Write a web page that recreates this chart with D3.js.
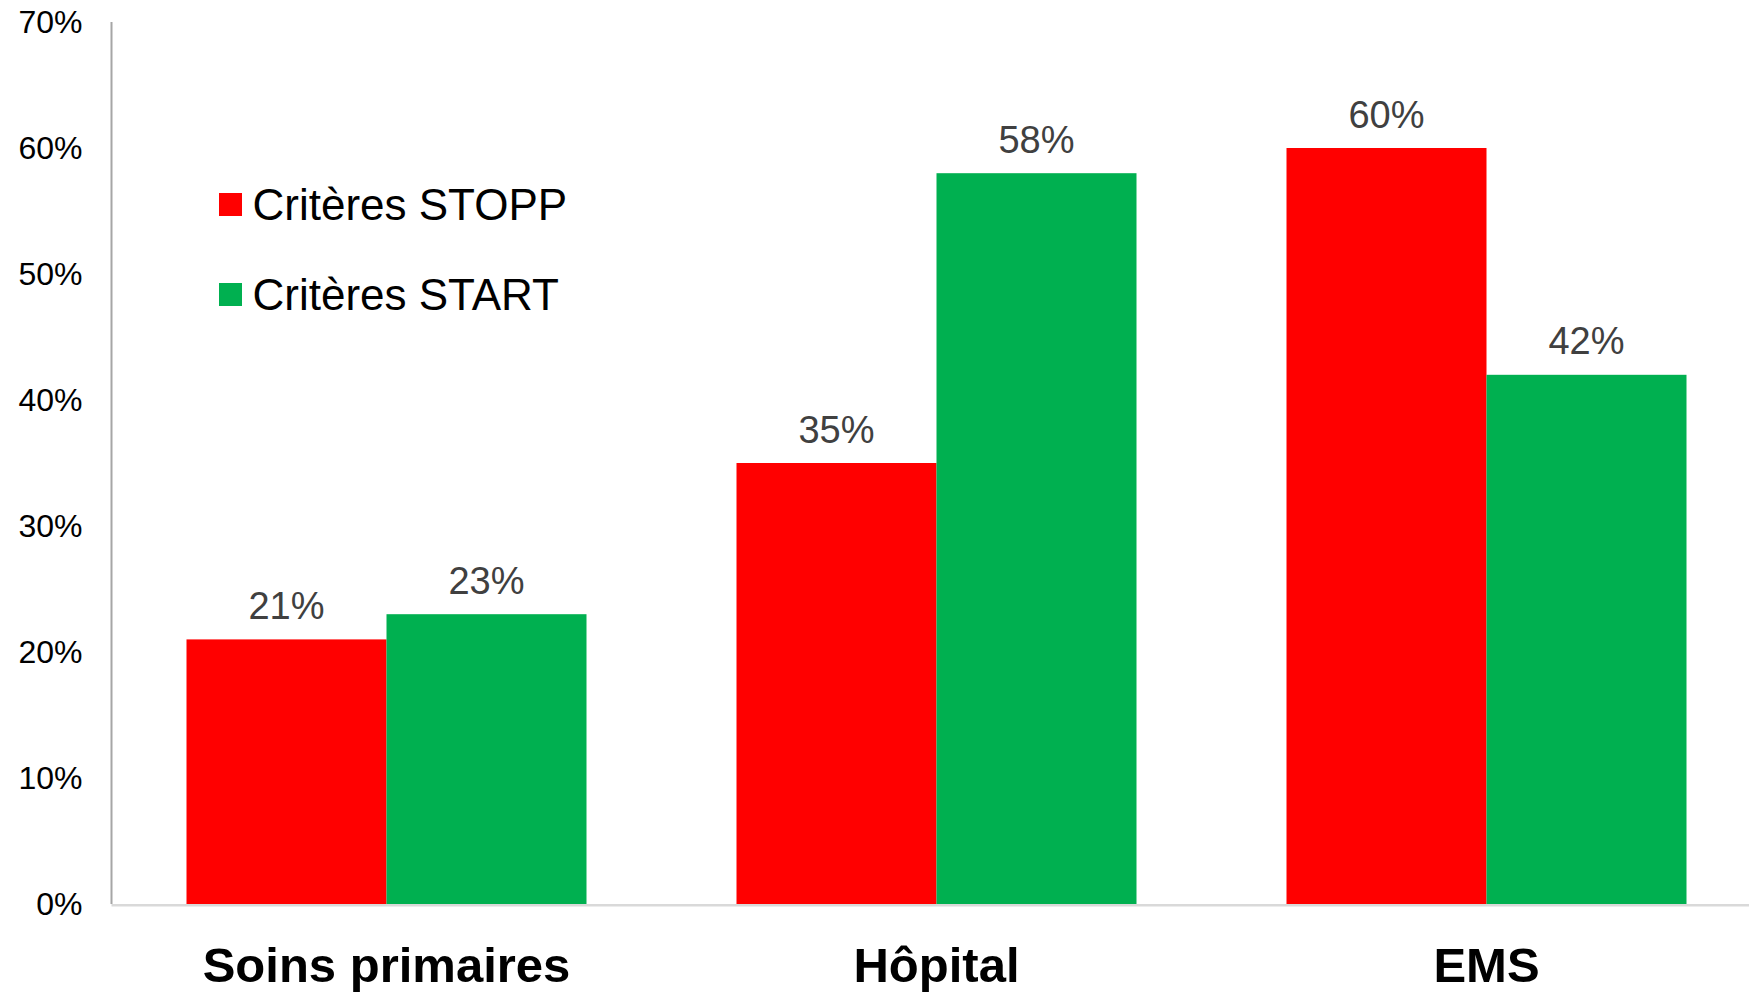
<!DOCTYPE html>
<html>
<head>
<meta charset="utf-8">
<script src="https://cdn.jsdelivr.net/npm/d3@7"></script>
<style>
  html, body { margin: 0; padding: 0; background: #fff; }
  svg { display: block; font-family: "Liberation Sans", Arial, sans-serif; }
</style>
</head>
<body>
<svg id="chart" width="1749" height="992"></svg>
<script>
// Share of patients meeting STOPP / START criteria by care setting
const categories = ["Soins primaires", "Hôpital", "EMS"];
const seriesNames = ["Critères STOPP", "Critères START"];
const stoppValues = [21, 35, 60];
const startValues = [23, 58, 42];
const yTicks = [0, 10, 20, 30, 40, 50, 60, 70];
const seriesColors = ["#ff0000", "#00b050"];

(function () {
  const svg = d3.select("#chart");
  const W = 1749;
  const plotLeft = 111.5, plotBottom = 904, plotTop = 22;

  const x = d3.scaleBand()
    .domain(categories)
    .range([plotLeft, plotLeft + 1650])
    .paddingInner(150 / 550)
    .paddingOuter(75 / 550);

  const xs = d3.scaleBand()
    .domain(seriesNames)
    .range([0, x.bandwidth()]);

  const y = d3.scaleLinear().domain([0, 70]).range([plotBottom, plotTop]);

  // Y axis: labels only, with a plain vertical line
  const yAxis = d3.axisLeft(y)
    .tickValues(yTicks)
    .tickSize(0)
    .tickPadding(29)
    .tickFormat(d => d + "%");
  const yG = svg.append("g").attr("transform", `translate(${plotLeft},0)`).call(yAxis);
  yG.select(".domain").remove();
  yG.selectAll("text")
    .attr("font-size", 32)
    .attr("fill", "#000")
    .attr("font-family", "Liberation Sans, Arial, sans-serif");
  svg.append("line")
    .attr("x1", plotLeft).attr("x2", plotLeft)
    .attr("y1", y(70)).attr("y2", plotBottom)
    .attr("stroke", "#a6a6a6").attr("stroke-width", 2);

  // Bars
  const rows = categories.map((c, i) => ({
    cat: c,
    vals: [
      { name: seriesNames[0], v: stoppValues[i], color: seriesColors[0] },
      { name: seriesNames[1], v: startValues[i], color: seriesColors[1] }
    ]
  }));

  const groups = svg.selectAll("g.cat")
    .data(rows).enter().append("g")
    .attr("class", "cat")
    .attr("transform", d => `translate(${x(d.cat)},0)`);

  groups.selectAll("rect")
    .data(d => d.vals).enter().append("rect")
    .attr("x", d => xs(d.name))
    .attr("width", xs.bandwidth())
    .attr("y", d => y(d.v))
    .attr("height", d => y(0) - y(d.v))
    .attr("fill", d => d.color);

  groups.selectAll("text.val")
    .data(d => d.vals).enter().append("text")
    .attr("class", "val")
    .attr("x", d => xs(d.name) + xs.bandwidth() / 2)
    .attr("y", d => y(d.v) - 20.5)
    .attr("text-anchor", "middle")
    .attr("font-size", 38)
    .attr("fill", "#404040")
    .text(d => d.v + "%");

  // X axis baseline
  svg.append("line")
    .attr("x1", plotLeft).attr("x2", W)
    .attr("y1", plotBottom + 1.2).attr("y2", plotBottom + 1.2)
    .attr("stroke", "#d9d9d9").attr("stroke-width", 2.5);

  // Category labels
  svg.selectAll("text.catlabel")
    .data(categories).enter().append("text")
    .attr("class", "catlabel")
    .attr("x", d => x(d) + x.bandwidth() / 2)
    .attr("y", 981.5)
    .attr("text-anchor", "middle")
    .attr("font-size", 49)
    .attr("font-weight", "bold")
    .attr("fill", "#000")
    .text(d => d);

  // Legend
  const legend = svg.append("g").attr("transform", "translate(219,193)");
  seriesNames.forEach((name, i) => {
    const g = legend.append("g").attr("transform", `translate(0,${i * 90})`);
    g.append("rect").attr("width", 23).attr("height", 23).attr("fill", seriesColors[i]);
    g.append("text")
      .attr("x", 33.5).attr("y", 27)
      .attr("font-size", 44)
      .attr("fill", "#000")
      .text(name);
  });
})();
</script>
</body>
</html>
